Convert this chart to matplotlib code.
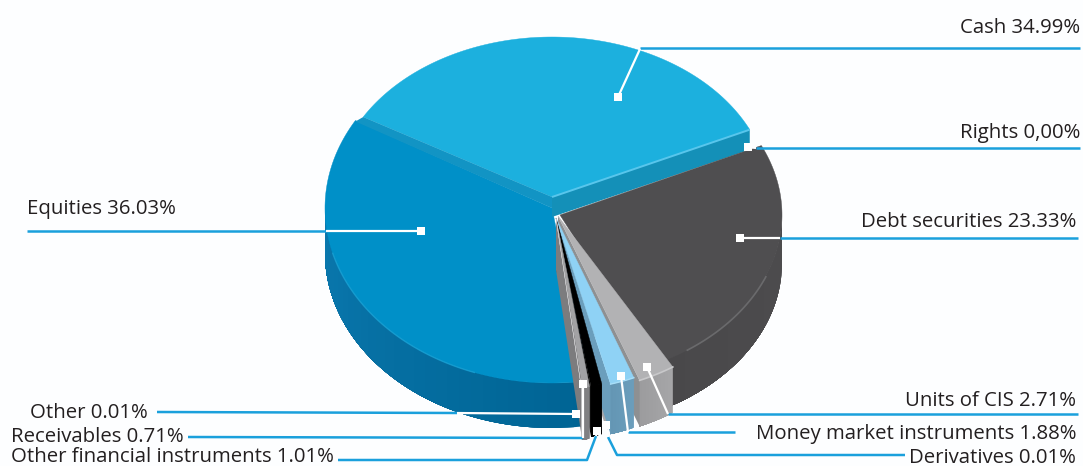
import matplotlib
matplotlib.use('Agg')
from matplotlib import pyplot as plt
from matplotlib.colors import to_rgb
import numpy as np

plt.rcParams['font.family'] = ['Open Sans', 'DejaVu Sans']

# clockwise from the cash slice
names = ['Cash', 'Rights', 'Debt securities', 'Units of CIS', 'Money market instruments',
         'Derivatives', 'Other financial instruments', 'Receivables', 'Other', 'Equities']
values = [34.99, 0.00, 23.33, 2.71, 1.88, 0.01, 1.01, 0.71, 0.01, 36.03]
value_text = ['34.99%', '0,00%', '23.33%', '2.71%', '1.88%', '0.01%', '1.01%', '0.71%', '0.01%', '36.03%']

START = 150.

# centre x, centre y, radius x, radius y, depth, wall depth for each slice
geom = {
    'Cash': (552, 197, 218, 160, 0, 0),
    'Rights': (552, 197, 218, 160, 0, 20),
    'Debt securities': (560, 215, 222, 165, 48, 0),
    'Units of CIS': (558, 216, 220, 177, 46, 46),
    'Money market instruments': (556, 218, 210, 172, 50, 50),
    'Derivatives': (556, 218, 200, 172, 50, 50),
    'Other financial instruments': (556, 218, 177, 172, 50, 50),
    'Receivables': (556, 218, 170, 172, 52, 52),
    'Other': (556, 218, 165, 172, 52, 0),
    'Equities': (552, 208, 227, 175, 45, 0),
}
# top colour, side colour at start and end of arc, wall colour
colours = {
    'Cash': ('#1cb0de', '#1cb0de', '#1cb0de', '#1cb0de'),
    'Rights': ('#1490b8', '#1490b8', '#1490b8', '#1490b8'),
    'Debt securities': ('#4f4e50', '#4d4c4e', '#49484a', '#454446'),
    'Units of CIS': ('#b2b2b4', '#a6a6a8', '#9c9c9e', '#8e9092'),
    'Money market instruments': ('#8fd2f5', '#6b9ebc', '#6496b4', '#6b9ebc'),
    'Derivatives': ('#a5a7aa', '#a5a7aa', '#a5a7aa', '#a5a7aa'),
    'Other financial instruments': ('#000000', '#000000', '#000000', '#0c0c0c'),
    'Receivables': ('#a2a2a4', '#808082', '#808082', '#7c7c7e'),
    'Other': ('#cfcfd1', '#cfcfd1', '#cfcfd1', '#cfcfd1'),
    'Equities': ('#0090c8', '#006494', '#0a78ae', '#0090c8'),
}
draw_order = ['Equities', 'Cash', 'Rights', 'Debt securities', 'Units of CIS', 'Derivatives',
              'Money market instruments', 'Other financial instruments', 'Receivables', 'Other']
# degrees a slice runs on underneath the next one, closes the gap from the exploded centres
tuck = {'Debt securities': 6.}

BLUE = '#1aa0dc'


def arc(g, a1, a2, n=120):
    t = np.radians(np.linspace(a1, a2, n))
    return g[0] + g[2] * np.cos(t), g[1] - g[3] * np.sin(t)


def blend(c1, c2, f):
    c1, c2 = np.array(to_rgb(c1)), np.array(to_rgb(c2))
    return tuple(c1 + (c2 - c1) * f)


def draw_slice(ax, name, a1, a2):
    g = geom[name]
    top, side1, side2, wall = colours[name]
    cx, cy, depth, wall_depth = g[0], g[1], g[4], g[5]
    a2 = a2 - tuck.get(name, 0.)

    # outer side only shows on the front half of the ellipse
    low, high = max(a2, -180), min(a1, 0)
    if depth > 0 and high > low:
        steps = np.linspace(high, low, 31)
        # each band runs to the far end so neighbours overlap without seams
        for i in range(30):
            x, y = arc(g, steps[i], low, 60)
            c = blend(side1, side2, i / 29.)
            ax.fill(np.r_[x, x[::-1]], np.r_[y, y[::-1] + depth], color=c, lw=0)

    # radial wall on the clockwise edge
    if wall_depth > 0:
        ex, ey = arc(g, a2, a2, 1)
        ax.fill([cx, ex[0], ex[0], cx], [cy, ey[0], ey[0] + wall_depth, cy + wall_depth], color=wall, lw=0)

    if a1 > a2:
        x, y = arc(g, a1, a2)
        ax.fill(np.r_[cx, x], np.r_[cy, y], color=top, lw=0.3)


fig = plt.figure(figsize=(10.83, 4.66), dpi=100, facecolor='#fdfeff')
ax = fig.add_axes([0, 0, 1, 1])
ax.set_xlim(0, 1083)
ax.set_ylim(466, 0)
ax.axis('off')

# slice angles from the shares
sweep = np.array(values) / sum(values) * 360
ends = START - np.cumsum(sweep)
starts = ends + sweep
angle = {n: (s, e) for n, s, e in zip(names, starts, ends)}

for name in draw_order:
    draw_slice(ax, name, *angle[name])

# strip between the cash and equities edges, then highlights
g = geom['Cash']
a_start, a_end = angle['Cash']
sx, sy = arc(g, a_start, a_start, 1)
ex, ey = arc(g, a_end, a_end, 1)
g2 = geom['Equities']
sx2, sy2 = arc(g2, START - 360, START - 360, 1)
ax.fill([g[0], sx[0], sx2[0], g2[0]], [g[1], sy[0], sy2[0] + 1, g2[1]], color='#1294c4', lw=0, zorder=1.5)
ax.plot([g[0], ex[0]], [g[1], ey[0]], color='#58c6ec', lw=1.4, zorder=4, solid_capstyle='butt')

g = geom['Debt securities']
x, y = arc(g, -22, -55)
ax.plot(x, y, color='#6a6a6c', lw=1.2, zorder=4)
g = geom['Equities']
x, y = arc(g, -110, -165)
ax.plot(x, y, color='#1ea4d6', lw=1.0, alpha=0.7, zorder=4)
g = geom['Units of CIS']
x, y = arc(g, *angle['Units of CIS'])
ax.plot(x, y, color='#c8c8ca', lw=1.2, zorder=4)
g = geom['Money market instruments']
x, y = arc(g, *angle['Money market instruments'])
ax.plot(x, y, color='#a8def8', lw=1.0, zorder=4)

# leader geometry: dot, white run inside the pie, blue run outside
leaders = {
    'Cash': ((618, 97), [(618, 97), (640, 49)], [(640, 48), (1080, 48)]),
    'Rights': ((748, 147), [(748, 147), (756, 148)], [(756, 148), (1080, 148)]),
    'Debt securities': ((740, 238), [(740, 238), (780, 238)], [(780, 238), (1078, 238)]),
    'Units of CIS': ((647, 367), [(647, 367), (668, 414)], [(668, 414), (1078, 414)]),
    'Money market instruments': ((621, 376), [(621, 376), (628, 432)], [(628, 432), (735, 432)]),
    'Derivatives': ((606, 425), [(606, 425), (608, 437)], [(608, 437), (617, 455), (905, 455)]),
    'Other financial instruments': ((597, 431), [(597, 431), (596, 436)], [(596, 436), (587, 460), (338, 460)]),
    'Receivables': ((583, 384), [(583, 384), (583, 438)], [(583, 438), (188, 437)]),
    'Other': ((576, 414), [(576, 414), (457, 413)], [(457, 413), (157, 412)]),
    'Equities': ((421, 231), [(421, 231), (326, 231)], [(326, 231), (27, 231)]),
}
for name in names:
    dot, white, blue = leaders[name]
    ax.plot(*zip(*blue), color=BLUE, lw=1.8, zorder=5, solid_capstyle='butt')
    ax.plot(*zip(*white), color='white', lw=1.6, zorder=6, solid_capstyle='butt')
    ax.plot(dot[0], dot[1], 's', color='white', ms=5.8, mew=0, zorder=7)

# label anchor and alignment
label_pos = {
    'Cash': (1080, 28, 'right'),
    'Rights': (1080, 133, 'right'),
    'Debt securities': (1076, 222, 'right'),
    'Units of CIS': (1076, 401, 'right'),
    'Money market instruments': (1076, 434, 'right'),
    'Derivatives': (1076, 458, 'right'),
    'Other financial instruments': (11, 456.5, 'left'),
    'Receivables': (11, 437, 'left'),
    'Other': (30, 413, 'left'),
    'Equities': (27, 209, 'left'),
}
for name, val in zip(names, value_text):
    x, y, ha = label_pos[name]
    ax.text(x, y, name + ' ' + val, ha=ha, va='center', fontsize=14.7, color='#231f20', zorder=8)

fig.savefig('out.png', dpi=100, facecolor=fig.get_facecolor())
